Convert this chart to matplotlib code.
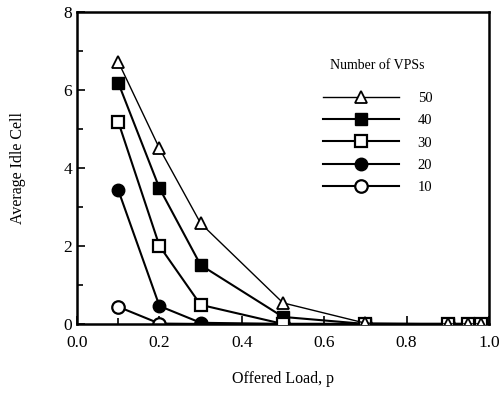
import matplotlib.pyplot as plt
from matplotlib.ticker import MultipleLocator

plt.rcParams['font.family'] = ['Liberation Serif', 'DejaVu Serif']

# Offered load values and average idle cells for each number of VPSs
load = [0.1, 0.2, 0.3, 0.5, 0.7, 0.9, 0.95, 0.98]
idle_50 = [6.72, 4.5, 2.58, 0.54, 0.02, 0.0, 0.0, 0.0]
idle_40 = [6.18, 3.48, 1.51, 0.18, 0.0, 0.0, 0.0, 0.0]
idle_30 = [5.18, 2.0, 0.49, 0.0, 0.0, 0.0, 0.0, 0.0]
idle_20 = [3.43, 0.46, 0.03, 0.0, 0.0, 0.0, 0.0, 0.0]
idle_10 = [0.44, 0.01, 0.0, 0.0, 0.0, 0.0, 0.0, 0.0]

fig = plt.figure(figsize=(5.04, 3.97), dpi=100)
ax = fig.add_axes([0.153, 0.184, 0.817, 0.786])

h10, = ax.plot(load, idle_10, '-o', color='black', mfc='white', mec='black',
               ms=9, mew=1.6, lw=1.5, label='10', zorder=2)
h20, = ax.plot(load, idle_20, '-o', color='black', mfc='black',
               ms=9, lw=1.5, label='20', zorder=3)
h40, = ax.plot(load, idle_40, '-s', color='black', mfc='black',
               ms=9, lw=1.5, label='40', zorder=4)
h30, = ax.plot(load, idle_30, '-s', color='black', mfc='white', mec='black',
               ms=9, mew=1.6, lw=1.5, label='30', zorder=5)
h50, = ax.plot(load, idle_50, '-^', color='black', mfc='white', mec='black',
               ms=9, mew=1.3, lw=1.0, label='50', zorder=6)

ax.set_xlim(0, 1.0)
ax.set_ylim(0, 8)
ax.xaxis.set_major_locator(MultipleLocator(0.2))
ax.xaxis.set_minor_locator(MultipleLocator(0.1))
ax.yaxis.set_major_locator(MultipleLocator(2))
ax.yaxis.set_minor_locator(MultipleLocator(1))
ax.tick_params(which='both', direction='in', labelsize=12.5, width=1.2)
ax.tick_params(which='major', length=6)
ax.tick_params(which='minor', length=4)
ax.tick_params(axis='x', pad=8)
for s in ax.spines.values():
    s.set_linewidth(1.8)

ax.set_xlabel('Offered Load, p', fontsize=11.5, labelpad=14)
ax.set_ylabel('Average Idle Cell', fontsize=11.5, labelpad=27)

leg = ax.legend(handles=[h50, h40, h30, h20, h10], title='Number of VPSs',
                frameon=False, loc='upper left', bbox_to_anchor=(0.565, 0.89),
                handlelength=5.2, handletextpad=1.3, labelspacing=0.62,
                fontsize=10.5, title_fontsize=10)
leg._legend_box.align = 'center'
leg._legend_box.sep = 14

fig.savefig('out.png', dpi=100)
